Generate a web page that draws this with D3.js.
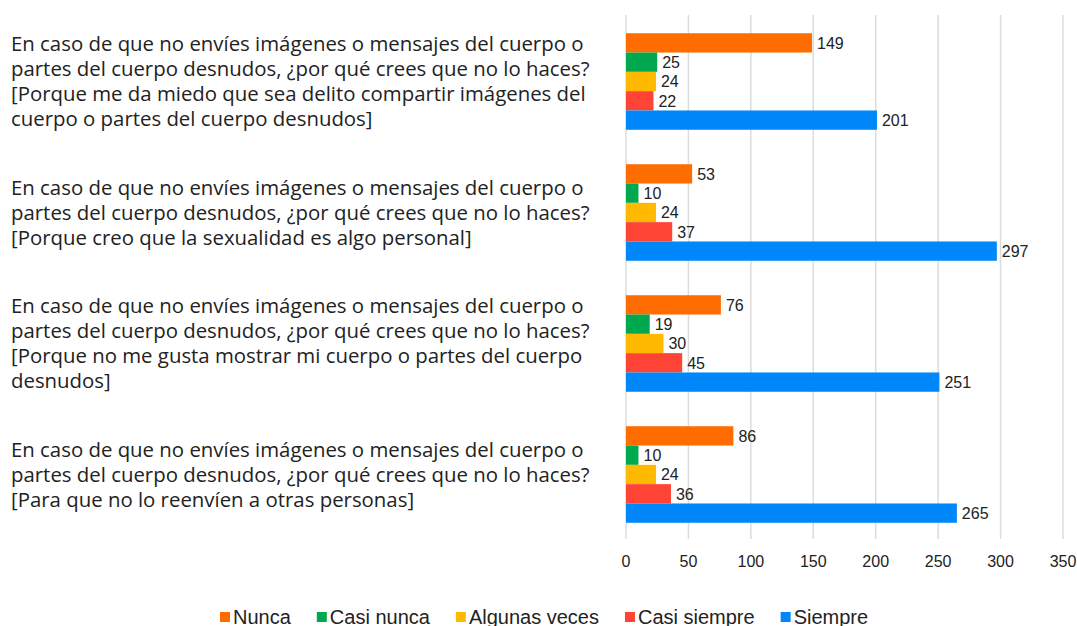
<!DOCTYPE html>
<html lang="es">
<head>
<meta charset="UTF-8">
<title>Envío de imágenes</title>
<script src="https://d3js.org/d3.v7.min.js"></script>
<style>
  body { margin: 0; background: #fff; }
  .grid line { stroke: #dcdcdc; stroke-width: 1.5px; }
  .cat text { font-family: "Open Sans", sans-serif; fill: #222; }
  .val { font: 16px "Liberation Sans", Arial, sans-serif; fill: #222; }
  .tick-lbl { font: 16px "Liberation Sans", Arial, sans-serif; fill: #222; }
  .legend text { font: 20px "Liberation Sans", Arial, sans-serif; fill: #222; }
</style>
</head>
<body>
<script>
  // categories (one array of lines per question)
  const categories = [
    ["En caso de que no envíes imágenes o mensajes del cuerpo o",
     "partes del cuerpo desnudos, ¿por qué crees que no lo haces?",
     "[Porque me da miedo que sea delito compartir imágenes del",
     "cuerpo o partes del cuerpo desnudos]"],
    ["En caso de que no envíes imágenes o mensajes del cuerpo o",
     "partes del cuerpo desnudos, ¿por qué crees que no lo haces?",
     "[Porque creo que la sexualidad es algo personal]"],
    ["En caso de que no envíes imágenes o mensajes del cuerpo o",
     "partes del cuerpo desnudos, ¿por qué crees que no lo haces?",
     "[Porque no me gusta mostrar mi cuerpo o partes del cuerpo",
     "desnudos]"],
    ["En caso de que no envíes imágenes o mensajes del cuerpo o",
     "partes del cuerpo desnudos, ¿por qué crees que no lo haces?",
     "[Para que no lo reenvíen a otras personas]"]
  ];
  const series = ["Nunca", "Casi nunca", "Algunas veces", "Casi siempre", "Siempre"];
  const colors = ["#ff6d00", "#00a84f", "#ffb900", "#ff4335", "#0088fb"];

  const nunca       = [149, 53, 76, 86];
  const casiNunca   = [25, 10, 19, 10];
  const algunas     = [24, 24, 30, 24];
  const casiSiempre = [22, 37, 45, 36];
  const siempre     = [201, 297, 251, 265];
  const values = [nunca, casiNunca, algunas, casiSiempre, siempre];

  const xTicks = [0, 50, 100, 150, 200, 250, 300, 350];

  const width = 1077, height = 626;
  const svg = d3.select("body").append("svg")
    .attr("width", width)
    .attr("height", height);

  const x = d3.scaleLinear().domain([0, 350]).range([626, 1063]);
  const y0 = d3.scaleBand()
    .domain(d3.range(categories.length))
    .range([16, 540])
    .paddingInner(0.263)
    .paddingOuter(0.1315);
  const y1 = d3.scaleBand()
    .domain(series)
    .range([0, y0.bandwidth()]);

  // gridlines
  svg.append("g").attr("class", "grid")
    .selectAll("line")
    .data(xTicks)
    .join("line")
    .attr("x1", d => x(d)).attr("x2", d => x(d))
    .attr("y1", 15).attr("y2", 539);

  // x tick labels
  svg.append("g")
    .selectAll("text")
    .data(xTicks)
    .join("text")
    .attr("class", "tick-lbl")
    .attr("x", d => x(d))
    .attr("y", 567)
    .attr("text-anchor", "middle")
    .text(d => d);

  // bars
  const group = svg.append("g")
    .selectAll("g")
    .data(categories)
    .join("g")
    .attr("transform", (d, i) => `translate(0,${y0(i)})`);

  group.selectAll("rect")
    .data((d, i) => series.map((s, j) => ({ s, j, v: values[j][i] })))
    .join("rect")
    .attr("x", x(0))
    .attr("y", d => y1(d.s))
    .attr("width", d => x(d.v) - x(0))
    .attr("height", y1.bandwidth())
    .attr("fill", d => colors[d.j]);

  group.selectAll("text.val")
    .data((d, i) => series.map((s, j) => ({ s, j, v: values[j][i] })))
    .join("text")
    .attr("class", "val")
    .attr("x", d => x(d.v) + 5)
    .attr("y", d => y1(d.s) + y1.bandwidth() / 2)
    .attr("dy", "0.36em")
    .text(d => d.v);

  // category labels
  const lineH = 25;
  const catG = svg.append("g").attr("class", "cat").style("font-size", "18px");
  const cat = catG.selectAll("text")
    .data(categories)
    .join("text")
    .attr("x", 11)
    .attr("y", (d, i) => y0(i) + y0.bandwidth() / 2 - (d.length - 1) * lineH / 2);
  cat.selectAll("tspan")
    .data(d => d)
    .join("tspan")
    .attr("x", 11)
    .attr("dy", (d, i) => i === 0 ? "0.35em" : lineH)
    .text(d => d);
  // fit the longest line to the label column width
  const widest = d3.max(cat.selectAll("tspan").nodes(), n => n.getComputedTextLength());
  catG.style("font-size", (18 * 579 / widest).toFixed(2) + "px");

  // legend
  const legend = svg.append("g").attr("class", "legend");
  let lx = 220;
  series.forEach((s, j) => {
    const item = legend.append("g");
    item.append("rect")
      .attr("x", lx).attr("y", 612)
      .attr("width", 10).attr("height", 10)
      .attr("fill", colors[j]);
    const t = item.append("text")
      .attr("x", lx + 13).attr("y", 624)
      .text(s);
    lx += 13 + t.node().getComputedTextLength() + 26;
  });
</script>
</body>
</html>
